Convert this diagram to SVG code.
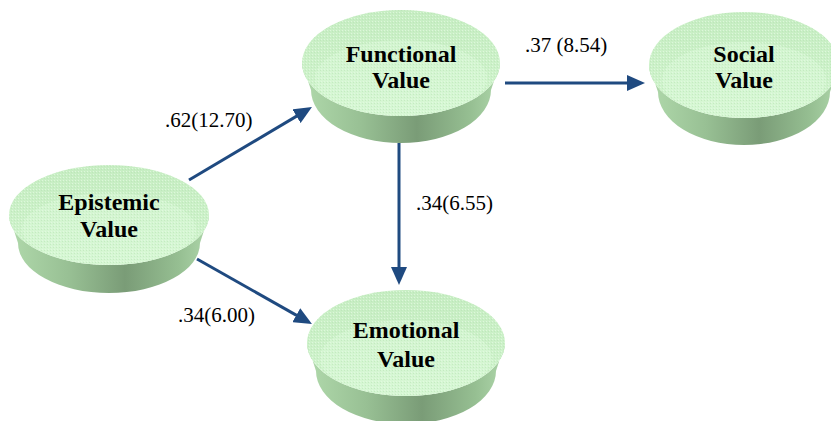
<svg xmlns="http://www.w3.org/2000/svg" width="831" height="421" viewBox="0 0 831 421">
  <style>
    .top { fill: url(#topFill); }
    .glow { fill: #dcf9d9; opacity: 0.5; }
    .tex { fill: url(#dots); }
    .side { fill: url(#sideFill); }
    .name { font-weight: bold; font-size: 24px; text-anchor: middle; fill: #000; }
    .coef { font-size: 21px; fill: #000; }
    .link { stroke: #1f4a80; stroke-width: 3; fill: none; marker-end: url(#head); }
  </style>
  <defs>
    <linearGradient id="sideFill" x1="0" y1="0" x2="1" y2="0">
      <stop offset="0" stop-color="#b0d9ab"/>
      <stop offset="0.3" stop-color="#98c094"/>
      <stop offset="0.58" stop-color="#7a9c77"/>
      <stop offset="0.85" stop-color="#96bf92"/>
      <stop offset="1" stop-color="#aed6aa"/>
    </linearGradient>
    <linearGradient id="topFill" x1="0" y1="0" x2="0" y2="1">
      <stop offset="0" stop-color="#c6edc2"/>
      <stop offset="1" stop-color="#d2f5cf"/>
    </linearGradient>
    <pattern id="dots" width="3" height="3" patternUnits="userSpaceOnUse">
      <rect x="0" y="0" width="1" height="1" fill="#e6fbe4" opacity="0.7"/>
      <rect x="2" y="1" width="1" height="1" fill="#b4dfb0" opacity="0.5"/>
    </pattern>
    <marker id="head" markerUnits="userSpaceOnUse" markerWidth="18" markerHeight="16" refX="10" refY="8" orient="auto">
      <path d="M0,0 L18,8 L0,16 Z" fill="#1f4a80"/>
    </marker>
  </defs>

  <!-- connectors -->
  <g id="connectors" font-family="'Liberation Serif', 'DejaVu Serif', serif">
    <line class="link" x1="189" y1="180" x2="305.1" y2="111.1"/>
    <line class="link" x1="197" y1="259" x2="305" y2="320.1"/>
    <line class="link" x1="505" y1="83" x2="637" y2="83"/>
    <line class="link" x1="399" y1="143" x2="399" y2="277"/>
    <text class="coef" x="165" y="127">.62(12.70)</text>
    <text class="coef" x="178" y="322">.34(6.00)</text>
    <text class="coef" x="525" y="52">.37 (8.54)</text>
    <text class="coef" x="416" y="210">.34(6.55)</text>
  </g>

  <!-- Functional Value: cx 401, cy 63 -->
  <g id="functional" font-family="'Liberation Serif', 'DejaVu Serif', serif">
    <path class="side" d="M302,63 L311,90 A90 53 0 0 0 491,90 L500,63 A99 53 0 0 1 302,63 Z"/>
    <ellipse class="top" cx="401" cy="63" rx="99" ry="53"/>
    <ellipse class="glow" cx="401" cy="78" rx="86" ry="38"/>
    <ellipse class="tex" cx="401" cy="63" rx="99" ry="53"/>
    <text class="name" x="401" y="62">Functional</text>
    <text class="name" x="401" y="88">Value</text>
  </g>

  <!-- Social Value: cx 744, cy 65 -->
  <g id="social" font-family="'Liberation Serif', 'DejaVu Serif', serif">
    <path class="side" d="M649,65 L658,92 A86 53 0 0 0 830,92 L839,65 A95 53 0 0 1 649,65 Z"/>
    <ellipse class="top" cx="744" cy="65" rx="95" ry="53"/>
    <ellipse class="glow" cx="744" cy="80" rx="82" ry="38"/>
    <ellipse class="tex" cx="744" cy="65" rx="95" ry="53"/>
    <text class="name" x="744" y="62">Social</text>
    <text class="name" x="744" y="88">Value</text>
  </g>

  <!-- Epistemic Value: cx 109, cy 215 -->
  <g id="epistemic" font-family="'Liberation Serif', 'DejaVu Serif', serif">
    <path class="side" d="M9,215 L18,243 A91 50 0 0 0 200,243 L209,215 A100 50 0 0 1 9,215 Z"/>
    <ellipse class="top" cx="109" cy="215" rx="100" ry="50"/>
    <ellipse class="glow" cx="109" cy="229" rx="87" ry="36"/>
    <ellipse class="tex" cx="109" cy="215" rx="100" ry="50"/>
    <text class="name" x="109" y="210">Epistemic</text>
    <text class="name" x="109" y="237">Value</text>
  </g>

  <!-- Emotional Value: cx 406, cy 343 -->
  <g id="emotional" font-family="'Liberation Serif', 'DejaVu Serif', serif">
    <path class="side" d="M307,343 L316,371 A90 53 0 0 0 496,371 L505,343 A99 53 0 0 1 307,343 Z"/>
    <ellipse class="top" cx="406" cy="343" rx="99" ry="53"/>
    <ellipse class="glow" cx="406" cy="358" rx="86" ry="38"/>
    <ellipse class="tex" cx="406" cy="343" rx="99" ry="53"/>
    <text class="name" x="406" y="338">Emotional</text>
    <text class="name" x="406" y="367">Value</text>
  </g>
</svg>
